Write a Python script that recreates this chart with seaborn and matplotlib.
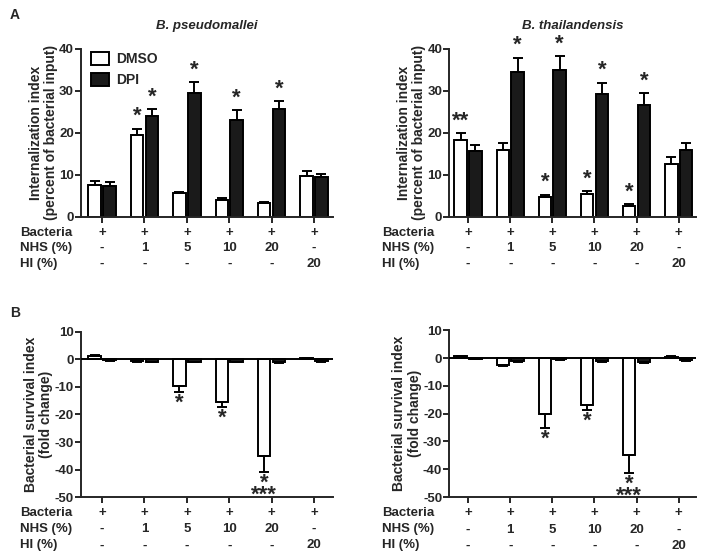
import numpy as np
import pandas as pd
import seaborn as sns
from matplotlib import pyplot as plt
from matplotlib import transforms

# 条件の表（x軸の下に書く行）
groups = ["c1", "c2", "c3", "c4", "c5", "c6"]
bacteria = ["+", "+", "+", "+", "+", "+"]
nhs = ["-", "1", "5", "10", "20", "-"]
hi = ["-", "-", "-", "-", "-", "20"]
treatments = ["DMSO", "DPI"]

# A: internalization index
bp_int_dmso = [7.5, 19.5, 5.6, 4.0, 3.2, 9.8]
bp_int_dmso_err = [1.1, 1.5, 0.3, 0.4, 0.3, 1.2]
bp_int_dpi = [7.3, 24.0, 29.5, 23.0, 25.8, 9.5]
bp_int_dpi_err = [0.9, 1.7, 2.6, 2.4, 1.7, 0.6]

bt_int_dmso = [18.2, 16.0, 4.8, 5.4, 2.7, 12.7]
bt_int_dmso_err = [1.7, 1.5, 0.5, 0.7, 0.3, 1.5]
bt_int_dpi = [15.6, 34.5, 35.0, 29.3, 26.6, 16.0]
bt_int_dpi_err = [1.5, 3.4, 3.3, 2.7, 2.8, 1.5]

# B: survival index
bp_surv_dmso = [1.3, -0.5, -9.8, -15.6, -35.2, 0.5]
bp_surv_dmso_err = [0.3, 0.3, 1.9, 1.6, 5.8, 0.2]
bp_surv_dpi = [-0.3, -0.8, -0.8, -0.8, -1.0, -0.7]
bp_surv_dpi_err = [0.1, 0.3, 0.3, 0.3, 0.3, 0.3]

bt_surv_dmso = [0.6, -2.5, -20.0, -17.0, -35.0, 0.5]
bt_surv_dmso_err = [0.2, 0.5, 5.0, 1.7, 6.3, 0.2]
bt_surv_dpi = [-0.3, -1.0, -0.5, -1.2, -1.5, -0.8]
bt_surv_dpi_err = [0.1, 0.3, 0.2, 0.3, 0.3, 0.3]

# 有意差の印: (group index, treatment index, text)
bp_int_stars = [(1, 0, "*"), (1, 1, "*"), (2, 1, "*"), (3, 1, "*"), (4, 1, "*")]
bt_int_stars = [(0, 0, "**"), (1, 1, "*"), (2, 1, "*"), (3, 1, "*"), (4, 1, "*"),
                (2, 0, "*"), (3, 0, "*"), (4, 0, "*")]
bp_surv_stars = [(2, 0, "*"), (3, 0, "*"), (4, 0, "*\n***")]
bt_surv_stars = [(2, 0, "*"), (3, 0, "*"), (4, 0, "*\n***")]

sns.set_style("ticks")
plt.rcParams["font.family"] = ["Liberation Sans", "DejaVu Sans"]
plt.rcParams["font.weight"] = "bold"
plt.rcParams["axes.linewidth"] = 1.4
FS = 9.5

fig = plt.figure(figsize=(7.04, 5.56), dpi=100)
ax_a1 = fig.add_axes([0.115, 0.610, 0.358, 0.302])
ax_a2 = fig.add_axes([0.638, 0.610, 0.350, 0.302])
ax_b1 = fig.add_axes([0.115, 0.106, 0.358, 0.297])
ax_b2 = fig.add_axes([0.638, 0.106, 0.350, 0.300])


def make_df(dmso, dpi):
    return pd.DataFrame({
        "group": groups * 2,
        "treatment": ["DMSO"] * 6 + ["DPI"] * 6,
        "value": list(dmso) + list(dpi),
    })


def draw(ax, dmso, dmso_err, dpi, dpi_err, stars, ylim, yticks, ylabel, rows_y, legend=False):
    df = make_df(dmso, dpi)
    sns.barplot(data=df, x="group", y="value", hue="treatment", order=groups,
                hue_order=treatments, palette={"DMSO": "white", "DPI": "#1a1a1a"},
                edgecolor="black", linewidth=1.4, width=0.7, gap=0.15,
                errorbar=None, ax=ax, legend=legend)
    bars = sorted([p for p in ax.patches if p.get_width() > 0],
                  key=lambda p: p.get_x())
    errs = [e for pair in zip(dmso_err, dpi_err) for e in pair]
    tops = {}
    for k, (p, e) in enumerate(zip(bars, errs)):
        xc = p.get_x() + p.get_width() / 2
        h = dmso[k // 2] if k % 2 == 0 else dpi[k // 2]
        if h >= 0:
            yerr = [[0], [e]]
            tops[k] = (xc, h + e)
        else:
            yerr = [[e], [0]]
            tops[k] = (xc, h - e)
        ax.errorbar(xc, h, yerr=yerr, fmt="none", ecolor="black",
                    elinewidth=1.4, capsize=3.5, capthick=1.4)
    span = ylim[1] - ylim[0]
    for g, t, txt in stars:
        xc, y = tops[g * 2 + t]
        if y >= 0:
            ax.text(xc, y + span * 0.01, txt, ha="center", va="bottom",
                    fontsize=16, fontweight="bold")
        else:
            ax.text(xc, y - span * 0.005, txt, ha="center", va="top",
                    fontsize=16, fontweight="bold", linespacing=0.42)
    ax.set_xlim(-0.5, 5.45)
    ax.set_ylim(*ylim)
    ax.set_yticks(yticks)
    ax.set_yticklabels([str(v) for v in yticks], fontsize=FS, fontweight="bold")
    ax.set_xticks(range(6))
    ax.set_xticklabels([])
    ax.set_xlabel("")
    ax.set_ylabel(ylabel, fontsize=10, fontweight="bold", linespacing=1.1, labelpad=1)
    ax.tick_params(length=4, width=1.4, pad=1)
    sns.despine(ax=ax)
    if ylim[0] < 0:
        ax.axhline(0, color="black", lw=1.4, zorder=5)
    trans = transforms.blended_transform_factory(ax.transData, ax.transAxes)
    for row, yy in zip([bacteria, nhs, hi], rows_y):
        for i, lab in enumerate(row):
            ax.text(i, yy, lab, transform=trans, ha="center", va="center",
                    fontsize=FS, fontweight="bold")
    if legend:
        ax.legend(loc="upper left", bbox_to_anchor=(0.0, 1.04), frameon=False,
                  prop={"size": FS + 0.5, "weight": "bold"}, handlelength=1.3,
                  handleheight=1.1, handletextpad=0.5, labelspacing=0.45,
                  borderaxespad=0.3)


rows_a = [-0.095, -0.185, -0.28]
rows_b = [-0.095, -0.195, -0.293]
ylab_a = "Internalization index\n(percent of bacterial input)"
ylab_b = "Bacterial survival index\n(fold change)"

draw(ax_a1, bp_int_dmso, bp_int_dmso_err, bp_int_dpi, bp_int_dpi_err, bp_int_stars,
     (0, 40), [0, 10, 20, 30, 40], ylab_a, rows_a, legend=True)
draw(ax_a2, bt_int_dmso, bt_int_dmso_err, bt_int_dpi, bt_int_dpi_err, bt_int_stars,
     (0, 40), [0, 10, 20, 30, 40], ylab_a, rows_a)
draw(ax_b1, bp_surv_dmso, bp_surv_dmso_err, bp_surv_dpi, bp_surv_dpi_err, bp_surv_stars,
     (-50, 10), [-50, -40, -30, -20, -10, 0, 10], ylab_b, rows_b)
draw(ax_b2, bt_surv_dmso, bt_surv_dmso_err, bt_surv_dpi, bt_surv_dpi_err, bt_surv_stars,
     (-50, 10), [-50, -40, -30, -20, -10, 0, 10], ylab_b, rows_b)

ax_a2.set_xlim(-0.45, 5.4)
ax_b2.set_xlim(-0.45, 5.4)

ax_a1.set_title("B. pseudomallei", fontsize=FS, fontweight="bold", style="italic", pad=14)
ax_a2.set_title("B. thailandensis", fontsize=FS, fontweight="bold", style="italic", pad=14)

# 行ラベル
for fx in [20 / 704, 382 / 704]:
    for ax_ref, rows in [(ax_a1, rows_a), (ax_b1, rows_b)]:
        for name, yy in zip(["Bacteria", "NHS (%)", "HI (%)"], rows):
            fy = ax_ref.get_position().y0 + yy * ax_ref.get_position().height
            fig.text(fx, fy, name, ha="left", va="center", fontsize=FS, fontweight="bold")

fig.text(10 / 704, 1 - 15 / 556, "A", fontsize=10, fontweight="bold", va="center")
fig.text(10 / 704, 1 - 313 / 556, "B", fontsize=10, fontweight="bold", va="center")

fig.savefig("out.png", dpi=100)
